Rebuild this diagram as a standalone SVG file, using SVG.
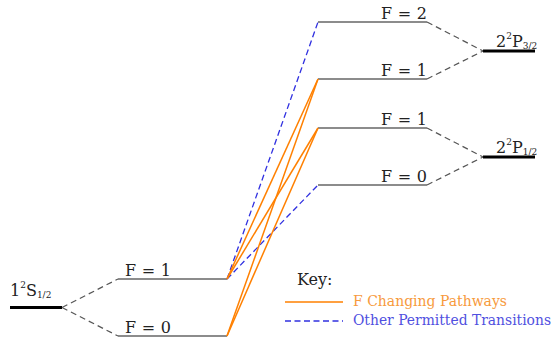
<svg xmlns="http://www.w3.org/2000/svg" width="554" height="338" viewBox="0 0 554 338">
<style>
text{fill:#222;font-family:"DejaVu Serif","Liberation Serif",serif}
.lvl{stroke:#666;stroke-width:1.6;fill:none}
.fine{stroke:#000;stroke-width:3;fill:none}
.hf{stroke:#555;stroke-width:1.2;stroke-dasharray:6,4;fill:none}
.or{stroke:#ff8000;stroke-width:1.5;fill:none}
.bl{stroke:#3030e0;stroke-width:1.3;stroke-dasharray:6,3.5;fill:none}
.lab{font-size:16px}
.big{font-size:16px}
.sub{font-size:9px}
</style>
<rect width="554" height="338" fill="#fff"/>
<g id="S12">
<line class="fine" x1="10" y1="307.5" x2="62" y2="307.5"/>
<text x="10" y="296" class="big">1<tspan class="sub" dy="-8">2</tspan><tspan dy="8">S</tspan><tspan class="sub" dy="2">1/2</tspan></text>
</g>
<g id="S_F1">
<line class="lvl" x1="118" y1="279" x2="227" y2="279"/>
<text x="125" y="276" class="lab" textLength="46" lengthAdjust="spacing">F = 1</text>
</g>
<g id="S_F0">
<line class="lvl" x1="118" y1="336" x2="227" y2="336"/>
<text x="125" y="333" class="lab" textLength="46" lengthAdjust="spacing">F = 0</text>
</g>
<g id="P32">
<line class="fine" x1="483" y1="51" x2="535" y2="51"/>
<text x="496" y="47" class="big">2<tspan class="sub" dy="-8">2</tspan><tspan dy="8">P</tspan><tspan class="sub" dy="2">3/2</tspan></text>
</g>
<g id="P12">
<line class="fine" x1="483" y1="157" x2="535" y2="157"/>
<text x="496" y="153" class="big">2<tspan class="sub" dy="-8">2</tspan><tspan dy="8">P</tspan><tspan class="sub" dy="2">1/2</tspan></text>
</g>
<g id="P32_F2">
<line class="lvl" x1="318" y1="22" x2="427" y2="22"/>
<text x="381" y="18.5" class="lab" textLength="46" lengthAdjust="spacing">F = 2</text>
</g>
<g id="P32_F1">
<line class="lvl" x1="318" y1="79" x2="427" y2="79"/>
<text x="381" y="75.5" class="lab" textLength="46" lengthAdjust="spacing">F = 1</text>
</g>
<g id="P12_F1">
<line class="lvl" x1="318" y1="128" x2="427" y2="128"/>
<text x="381" y="124.5" class="lab" textLength="46" lengthAdjust="spacing">F = 1</text>
</g>
<g id="P12_F0">
<line class="lvl" x1="318" y1="185" x2="427" y2="185"/>
<text x="381" y="181.5" class="lab" textLength="46" lengthAdjust="spacing">F = 0</text>
</g>
<g id="connectors">
<line class="hf" x1="62" y1="307.5" x2="118" y2="279"/>
<line class="hf" x1="62" y1="307.5" x2="118" y2="336"/>
<line class="hf" x1="427" y1="22" x2="483" y2="51"/>
<line class="hf" x1="427" y1="79" x2="483" y2="51"/>
<line class="hf" x1="427" y1="128" x2="483" y2="157"/>
<line class="hf" x1="427" y1="185" x2="483" y2="157"/>
<line class="bl" x1="227" y1="279" x2="318" y2="22"/>
<line class="bl" x1="227" y1="279" x2="318" y2="185"/>
<line class="or" x1="227" y1="279" x2="318" y2="79"/>
<line class="or" x1="227" y1="279" x2="318" y2="128"/>
<line class="or" x1="227" y1="336" x2="318" y2="79"/>
<line class="or" x1="227" y1="336" x2="318" y2="128"/>
</g>
<g id="key">
<text x="297" y="285" font-size="16">Key:</text>
<line class="or" x1="285" y1="302" x2="343" y2="302"/>
<text x="353" y="306" font-size="14" style="fill:#f79a3c" textLength="154" lengthAdjust="spacingAndGlyphs">F Changing Pathways</text>
<line class="bl" x1="285" y1="321" x2="343" y2="321"/>
<text x="353" y="325" font-size="14" style="fill:#5050e0" textLength="198" lengthAdjust="spacingAndGlyphs">Other Permitted Transitions</text>
</g>
</svg>
